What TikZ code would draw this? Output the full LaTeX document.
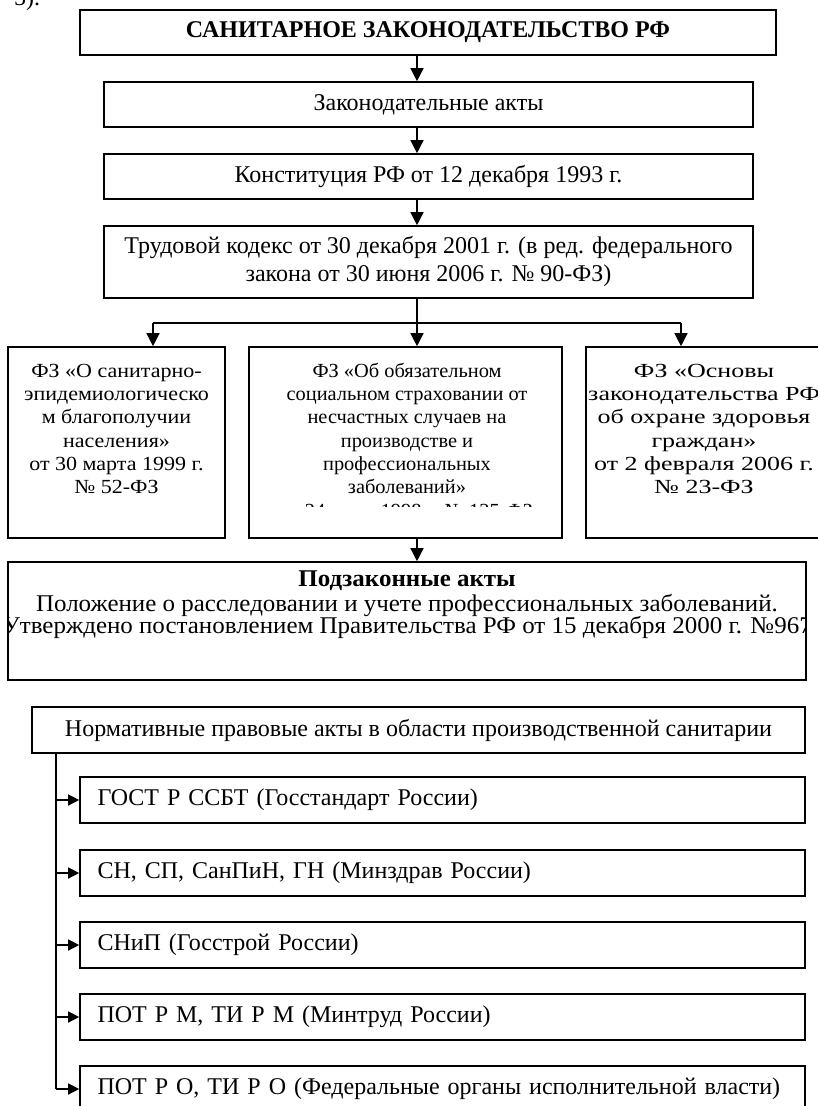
\documentclass[tikz,border=0pt]{standalone}
\usepackage{fontspec}
\setmainfont{Liberation Serif}
\newfontfamily\colAfont{Liberation Serif}[FakeStretch=1.1]
\newfontfamily\colBfont{Liberation Serif}[FakeStretch=1.02]
\newfontfamily\colCfont{Liberation Serif}[FakeStretch=1.3]
\newfontfamily\podzfont{Liberation Serif}[FakeStretch=1.04]
\usetikzlibrary{arrows.meta}
\newcommand{\bigtxt}{\fontsize{24}{28}\selectfont}
\newcommand{\colsize}{\fontsize{20}{23.3}\selectfont}
\begin{document}
\begin{tikzpicture}[x=1pt,y=-1pt,
  bx/.style={draw, line width=1.6pt, inner sep=0pt, align=center, font=\bigtxt},
  plainbox/.style={draw, line width=1.6pt, inner sep=0pt},
  coltext/.style={inner sep=0pt, align=center, anchor=north},
  itembox/.style={draw, line width=1.6pt, inner xsep=17.5pt, inner ysep=0pt,
     text width=690pt, minimum height=46pt, align=left, font=\bigtxt},
  arr/.style={line width=1.3pt, -{Triangle[length=13pt,width=13pt]}},
  sarr/.style={line width=1.3pt, -{Triangle[length=11pt,width=11pt]}},
  ln/.style={line width=1.3pt}]
\useasboundingbox (0,0) rectangle (818,1106);
\clip (0,0) rectangle (818,1106);

\node[anchor=base west, inner sep=0pt, font=\bigtxt] (capt) at (14,5) {5).};

% main chain
\node[bx, minimum width=696pt, minimum height=45pt] (top) at (428,32.5)
  {\textbf{САНИТАРНОЕ ЗАКОНОДАТЕЛЬСТВО РФ}};
\node[bx, minimum width=649pt, minimum height=45pt] (zak) at (428.5,104.5)
  {Законодательные акты};
\node[bx, minimum width=649pt, minimum height=45pt] (konst) at (428.5,176.5)
  {Конституция РФ от 12 декабря 1993 г.};
\node[bx, minimum width=649pt, minimum height=72pt] (trud) at (428.5,262)
  {\strut Трудовой кодекс от 30 декабря 2001 г. (в ред. федерального\\
   \strut закона от 30 июня 2006 г. № 90-ФЗ)};

\coordinate (ax) at (417,0);
\draw[arr] (top.south -| ax) -- (zak.north -| ax);
\draw[arr] (zak.south -| ax) -- (konst.north -| ax);
\draw[arr] (konst.south -| ax) -- (trud.north -| ax);

% three columns
\node[plainbox, minimum width=217pt, minimum height=191pt] (c1) at (116.5,442.5) {};
\node[plainbox, minimum width=313pt, minimum height=191pt] (c2) at (405.5,442.5) {};
\node[plainbox, minimum width=244pt, minimum height=191pt] (c3) at (708,442.5) {};

\begin{scope}
\clip (c1.south west) rectangle (c1.north east);
\node[coltext, font=\colAfont\colsize] (c1t) at (116.5,360.7)
  {\strut ФЗ «О санитарно-\\эпидемиологическо\\м благополучии\\населения»\\от 30 марта 1999 г.\\№ 52-ФЗ};
\end{scope}
\begin{scope}
\clip (249,347) rectangle (562,506);
\node[coltext, font=\colBfont\colsize] (c2t) at (407,360.7)
  {\strut ФЗ «Об обязательном\\социальном страховании от\\несчастных случаев на\\производстве и\\профессиональных\\заболеваний»\\от 24 июля 1998 г. № 125-ФЗ};
\end{scope}
\begin{scope}
\clip (c3.south west) rectangle (c3.north east);
\node[coltext, font=\colCfont\colsize] (c3t) at (704,360.7)
  {\strut ФЗ «Основы\\законодательства РФ\\об охране здоровья\\граждан»\\от 2 февраля 2006 г.\\№ 23-ФЗ};
\end{scope}

\coordinate (br) at (417,323);
\coordinate (bl) at (153,323);
\coordinate (brr) at (681,323);
\draw[ln] (trud.south -| ax) -- (br);
\draw[ln] (bl) -- (brr);
\draw[arr] (bl) -- (c1.north -| bl);
\draw[arr] (br) -- (c2.north -| br);
\draw[arr] (brr) -- (c3.north -| brr);

% by-laws
\node[plainbox, minimum width=798pt, minimum height=118pt] (podz) at (407,621) {};
\begin{scope}
\clip (podz.south west) rectangle (podz.north east);
\node[inner sep=0pt, align=center, anchor=north, font=\podzfont\fontsize{24}{22.5}\selectfont] (podzt) at (407,570.3)
  {\strut\textbf{Подзаконные акты}\\Положение о расследовании и учете профессиональных заболеваний.\\Утверждено постановлением Правительства РФ от 15 декабря 2000 г. №967};
\end{scope}
\draw[arr] (c2.south -| ax) -- (podz.north -| ax);

% normative acts
\node[bx, minimum width=773pt, minimum height=46pt] (norm) at (418.5,730)
  {Нормативные правовые акты в области производственной санитарии};

\node[itembox] (i1) at (442.5,800) {ГОСТ Р ССБТ (Госстандарт России)};
\node[itembox] (i2) at (442.5,873) {СН, СП, СанПиН, ГН (Минздрав России)};
\node[itembox] (i3) at (442.5,945) {СНиП (Госстрой России)};
\node[itembox] (i4) at (442.5,1017) {ПОТ Р М, ТИ Р М (Минтруд России)};
\node[itembox] (i5) at (442.5,1089) {ПОТ Р О, ТИ Р О (Федеральные органы исполнительной власти)};

\coordinate (tr) at (56,0);
\draw[ln] (norm.south -| tr) -- (i5.west -| tr);
\foreach \i in {1,...,5}{
  \draw[sarr] (i\i.west -| tr) -- (i\i.west);
}
\end{tikzpicture}
\end{document}
